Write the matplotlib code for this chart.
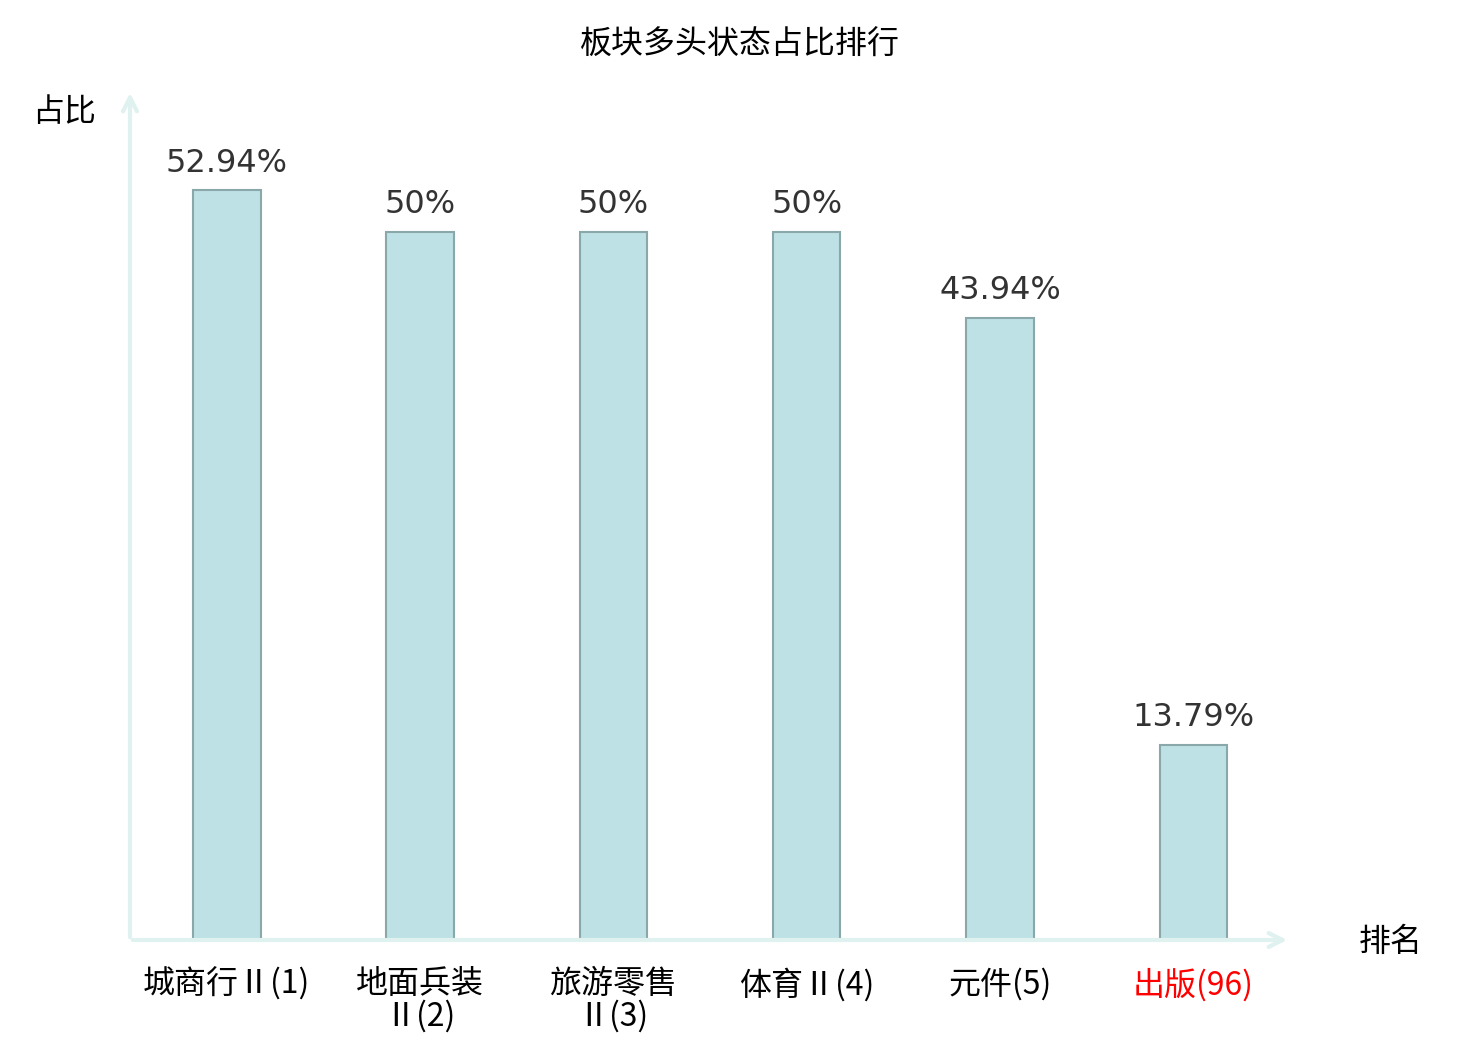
import matplotlib
matplotlib.use("Agg")
import matplotlib.pyplot as plt

plt.rcParams['font.family'] = ['Noto Sans CJK SC', 'DejaVu Sans']

names = ["城商行Ⅱ(1)", "地面兵装\nⅡ(2)", "旅游零售\nⅡ(3)", "体育Ⅱ(4)", "元件(5)", "出版(96)"]
values = [52.94, 50, 50, 50, 43.94, 13.79]
value_labels = ["52.94%", "50%", "50%", "50%", "43.94%", "13.79%"]
label_colors = ["black", "black", "black", "black", "black", "#FF0000"]

fig = plt.figure(figsize=(14.8, 10.4), dpi=100)
ax = fig.add_axes([130/1480, 100/1040, 1160/1480, 850/1040])

x = list(range(len(values)))
ax.bar(x, values, width=0.35, color="#BDE1E4", edgecolor="#8AA8A9", linewidth=1.5, zorder=3)

for xi, v, lab in zip(x, values, value_labels):
    ax.text(xi, v + 0.8, lab, ha="center", va="bottom", fontsize=23,
            color="#333333", family="DejaVu Sans")

ax.set_xlim(-0.5, 5.5)
ax.set_ylim(0, 60)
for s in ax.spines.values():
    s.set_visible(False)
ax.set_yticks([])
ax.set_xticks(x)
ax.set_xticklabels(names, fontsize=23, linespacing=1.0)
ax.tick_params(axis="x", length=0, pad=20)
for t, c in zip(ax.get_xticklabels(), label_colors):
    t.set_color(c)

axis_col = "#DFF2F0"
# axis lines with open arrowheads
ax.annotate("", xy=(1.0, 0), xytext=(0, 0), xycoords="axes fraction",
            arrowprops=dict(arrowstyle="->,head_length=1.0,head_width=0.5",
                            color=axis_col, lw=3), annotation_clip=False)
ax.annotate("", xy=(0, 1.0), xytext=(0, 0), xycoords="axes fraction",
            arrowprops=dict(arrowstyle="->,head_length=1.0,head_width=0.5",
                            color=axis_col, lw=3), annotation_clip=False)

fig.text(64/1480, 1 - 112/1040, "占比", ha="center", va="center", fontsize=23)
fig.text(1391/1480, 1 - 942/1040, "排名", ha="center", va="center", fontsize=23)
fig.text(740/1480, 1 - 45/1040, "板块多头状态占比排行", ha="center", va="center", fontsize=23)

fig.savefig("out.png", dpi=100)
